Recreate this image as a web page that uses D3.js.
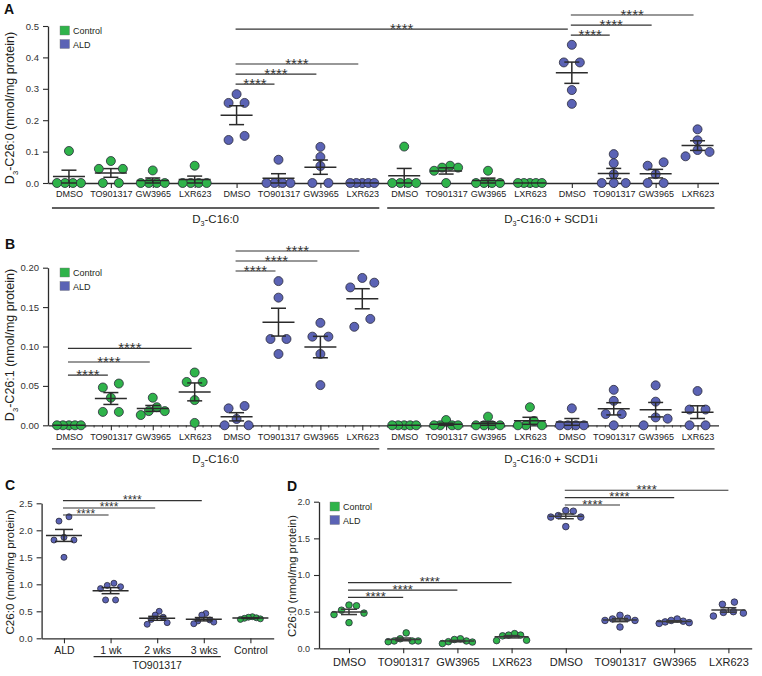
<!DOCTYPE html>
<html><head><meta charset="utf-8">
<script src="https://cdn.jsdelivr.net/npm/d3@7"></script>
<style>
body{margin:0;background:#fff}
text{font-family:"Liberation Sans",Arial,Helvetica,sans-serif;fill:#231f20}
</style>
</head><body>
<svg id="chart" width="762" height="676"></svg>
<script>
// ---------------- DATA ----------------
const treatments = ["DMSO","TO901317","GW3965","LXR623"];
const groupsAB = [...treatments, ...treatments, ...treatments, ...treatments];
const genotypeAB = ["Control","Control","Control","Control","ALD","ALD","ALD","ALD",
                    "Control","Control","Control","Control","ALD","ALD","ALD","ALD"];
const conditionsAB = [
  {segs:[["D",0],["3",1],["-C16:0",0]], from:0, to:7},
  {segs:[["D",0],["3",1],["-C16:0 + SCD1i",0]], from:8, to:15}
];
const legendItems = ["Control","ALD"];

const valuesA = [
  [0,0,0,0,0.102],
  [0,0,0.045,0.045,0.07],
  [0,0,0,0,0.04],
  [0,0,0,0,0.055],
  [0.283,0.255,0.255,0.137,0.15],
  [0,0,0,0,0.074],
  [0,0,0.054,0.083,0.115],
  [0,0,0,0,0],
  [0,0,0,0,0.116],
  [0,0.039,0.049,0.049,0.055],
  [0,0,0,0,0.039],
  [0,0,0,0,0],
  [0.44,0.384,0.384,0.296,0.252],
  [0,0,0,0.028,0.063,0.092],
  [0,0,0.028,0.055,0.066],
  [0.171,0.136,0.105,0.099,0.085]
];
const ticksA = [0,0.1,0.2,0.3,0.4,0.5];
const sigA = [
  {a:4,b:5,at:0.315},{a:4,b:6,at:0.347},{a:4,b:7,at:0.379},{a:4,b:12,at:0.490},
  {a:12,b:13,at:0.471},{a:12,b:14,at:0.503},{a:12,b:15,at:0.535}
];

const valuesB = [
  [0,0,0,0,0],
  [0.053,0.048,0.035,0.017,0.017],
  [0.035,0.023,0.018,0.018,0.013],
  [0.067,0.055,0.055,0.032,0.003],
  [0.0245,0.0215,0.008,0,0],
  [0.183,0.162,0.1095,0.1095,0.0905],
  [0.13,0.1125,0.1125,0.0905,0.051],
  [0.187,0.181,0.175,0.125,0.135],
  [0,0,0,0,0],
  [0.0067,0,0,0,0],
  [0.011,0,0,0,0],
  [0.023,0.0055,0,0,0],
  [0.0215,0,0,0,0],
  [0.045,0.031,0.0143,0.0143,0],
  [0.0507,0.030,0.010,0.0084,0],
  [0.0435,0.020,0.020,0,0]
];
const ticksB = [0,0.05,0.10,0.15,0.20];
const sigB = [
  {a:0,b:1,at:0.0638},{a:0,b:2,at:0.0803},{a:0,b:3,at:0.0977},
  {a:4,b:5,at:0.1958},{a:4,b:6,at:0.2085},{a:4,b:7,at:0.2212}
];

const groupsC = ["ALD","1 wk","2 wks","3 wks","Control"];
const genotypeC = ["ALD","ALD","ALD","ALD","Control"];
const valuesC = [
  [2.25,2.17,1.87,1.82,1.82,1.50],
  [1.02,0.98,0.955,0.92,0.71,0.71],
  [0.50,0.43,0.39,0.35,0.29,0.26],
  [0.46,0.43,0.34,0.32,0.30,0.27],
  [0.35,0.39,0.36,0.40,0.37,0.38]
];
const ticksC = [0,0.5,1.0,1.5,2.0,2.5];
const bracketC = {label:"TO901317", from:1, to:3};
const sigC = [{a:0,b:1,at:2.283},{a:0,b:2,at:2.413},{a:0,b:3,at:2.548}];

const groupsD = [...treatments, ...treatments];
const genotypeD = ["Control","Control","Control","Control","ALD","ALD","ALD","ALD"];
const valuesD = [
  [0.59,0.58,0.52,0.48,0.46,0.35],
  [0.21,0.13,0.10,0.10,0.10,0.09],
  [0.13,0.12,0.10,0.09,0.085,0.065],
  [0.20,0.18,0.18,0.17,0.11,0.105],
  [1.88,1.87,1.81,1.79,1.79,1.66],
  [0.45,0.41,0.40,0.38,0.38,0.29],
  [0.40,0.38,0.37,0.36,0.35,0.34],
  [0.63,0.60,0.50,0.49,0.48,0.44]
];
const ticksD = [0,0.5,1.0,1.5,2.0];
const sigD = [
  {a:0,b:1,at:0.696},{a:0,b:2,at:0.795},{a:0,b:3,at:0.895},
  {a:4,b:5,at:1.955},{a:4,b:6,at:2.055},{a:4,b:7,at:2.156}
];

// ---------------- STYLE ----------------
const COL = {Control:"#2fb34a", ALD:"#5b63b5"};
const INK = "#2b2b2b";
const svg = d3.select("#chart");

function rich(sel, segs, fs){
  segs.forEach(([t,sub],i)=>{
    const ts = sel.append("tspan").text(t);
    if(sub){ ts.attr("font-size", fs*0.62).attr("dy", fs*0.3); }
    else if(i>0 && segs[i-1][1]){ ts.attr("dy", -fs*0.3); }
  });
}

function swarm(vals, y, o){
  const pts = vals.map(v=>({v, py:y(v)})).sort((a,b)=>a.py-b.py);
  const rows=[]; let cur=[];
  pts.forEach(p=>{
    if(cur.length && p.py-cur[cur.length-1].py >= o.rowGap){ rows.push(cur); cur=[]; }
    cur.push(p);
  });
  if(cur.length) rows.push(cur);
  rows.forEach(row=>{
    const k=row.length;
    const pitch = k>1 ? Math.min(o.maxPitch, o.maxW/(k-1)) : 0;
    const offs = d3.range(k).map(i=>(i-(k-1)/2)*pitch)
      .sort((a,b)=>Math.abs(a)-Math.abs(b) || b-a);
    row.forEach((p,i)=>p.dx=offs[i]);
  });
  return pts;
}

function panel(o){
  const g = svg.append("g");
  const x = d3.scaleLinear().domain(o.xDomain).range(o.xRange);
  const y = d3.scaleLinear().domain(o.yDomain).range(o.yRange);
  const ya = g.append("g").attr("transform",`translate(${o.xRange[0]},0)`)
    .call(d3.axisLeft(y).tickValues(o.ticks).tickFormat(d3.format(o.fmt))
      .tickSize(5).tickSizeOuter(0).tickPadding(4));
  ya.selectAll("text").attr("font-size",o.yFs).style("fill","#333");
  const n = o.values.length;
  const xa = g.append("g").attr("transform",`translate(0,${y(0)})`)
    .call(d3.axisBottom(x).tickValues(d3.range(n)).tickFormat(i=>o.labels[i])
      .tickSize(5).tickSizeOuter(0).tickPadding(o.xPad));
  xa.selectAll("text").attr("font-size",o.xFs).style("fill","#222");
  [ya,xa].forEach(a=>{a.select(".domain").attr("stroke",INK).attr("stroke-width",1.3);
    a.selectAll(".tick line").attr("stroke",INK).attr("stroke-width",1.1);});
  if(o.minor){
    const mt=[]; for(let i=0;i<n-1;i++) for(let j=1;j<5;j++) mt.push(i+j/5);
    g.append("g").selectAll("line").data(mt).join("line")
      .attr("x1",d=>x(d)).attr("x2",d=>x(d)).attr("y1",y(0)).attr("y2",y(0)+2.2)
      .attr("stroke",INK).attr("stroke-width",0.9);
  }
  o.values.forEach((vals,i)=>{
    const pts = swarm(vals,y,o.sw);
    g.append("g").selectAll("circle").data(pts).join("circle")
      .attr("cx",d=>x(i)+d.dx).attr("cy",d=>y(d.v)).attr("r",o.r)
      .attr("fill",COL[o.geno[i]]).attr("stroke","#2a2a3a").attr("stroke-width",0.8);
  });
  o.values.forEach((vals,i)=>{
    const m=d3.mean(vals), s=d3.deviation(vals)/Math.sqrt(vals.length);
    const cx=x(i), eg=g.append("g").attr("stroke",o.barCol||INK).attr("stroke-width",1.5);
    eg.append("line").attr("x1",cx-o.mw).attr("x2",cx+o.mw).attr("y1",y(m)).attr("y2",y(m));
    if(s>0){
      eg.append("line").attr("x1",cx).attr("x2",cx).attr("y1",y(m-s)).attr("y2",y(m+s));
      [m-s,m+s].forEach(v=>eg.append("line").attr("x1",cx-o.cw).attr("x2",cx+o.cw)
        .attr("y1",y(v)).attr("y2",y(v)));
    }
  });
  o.sig.forEach(s=>{
    const x1=x(s.a)-1, x2=x(s.b)-o.sigEnd, yy=y(s.at);
    g.append("line").attr("x1",x1).attr("x2",x2).attr("y1",yy).attr("y2",yy)
      .attr("stroke","#333").attr("stroke-width",1.2);
    g.append("text").attr("x",(x1+x2)/2).attr("y",yy+0.58*o.starFs-3.8)
      .attr("text-anchor","middle").attr("font-size",o.starFs).style("fill","#333").text("****");
  });
  (o.brackets||[]).forEach(b=>{
    const by=y(0)+o.bOff;
    g.append("line").attr("x1",x(b.from)-17).attr("x2",x(b.to)+17).attr("y1",by).attr("y2",by)
      .attr("stroke",INK).attr("stroke-width",1.3);
    const t=g.append("text").attr("x",(x(b.from)+x(b.to))/2).attr("y",by+o.bLab)
      .attr("text-anchor","middle").attr("font-size",o.bFs);
    if(b.segs) rich(t,b.segs,o.bFs); else t.text(b.label);
  });
  const yt=g.append("text").attr("transform",`translate(${o.yt[0]},${o.yt[1]}) rotate(-90)`)
    .attr("text-anchor","middle").attr("font-size",o.ytFs);
  rich(yt,o.ytSegs,o.ytFs);
  g.append("text").attr("x",o.letter[1]).attr("y",o.letter[2]).attr("font-size",14)
    .attr("font-weight","bold").style("fill","#111").text(o.letter[0]);
  if(o.legend){
    legendItems.forEach((k,j)=>{
      const ly=o.legend[1]+j*13.5;
      g.append("rect").attr("x",o.legend[0]).attr("y",ly).attr("width",9.5).attr("height",9)
        .attr("fill",COL[k]).attr("stroke","#777").attr("stroke-width",0.4);
      g.append("text").attr("x",o.legend[0]+13).attr("y",ly+8).attr("font-size",9).text(k);
    });
  }
}

const swAB = {rowGap:8.1, maxPitch:16, maxW:24};
panel({values:valuesA, labels:groupsAB, geno:genotypeAB, ticks:ticksA, fmt:".1f",
  xDomain:[-0.5,15.5], xRange:[48,718.5], yDomain:[0,0.5], yRange:[183,26],
  yFs:9.5, xFs:9, xPad:3, r:4.5, sw:swAB, mw:16, cw:7.5, sig:sigA, sigEnd:4, starFs:15,
  brackets:conditionsAB, bOff:25, bLab:14.5, bFs:11.5,
  yt:[14,108], ytFs:12.5, ytSegs:[["D",0],["3",1],["-C26:0 (nmol/mg protein)",0]],
  letter:["A",4,14], legend:[60,26]});

panel({values:valuesB, labels:groupsAB, geno:genotypeAB, ticks:ticksB, fmt:".2f",
  xDomain:[-0.5,15.5], xRange:[48,718.5], yDomain:[0,0.2], yRange:[425.3,267.7],
  yFs:9.5, xFs:9, xPad:3, r:4.5, sw:swAB, mw:16, cw:7.5, sig:sigB, sigEnd:3, starFs:15,
  brackets:conditionsAB, bOff:23.5, bLab:14.5, bFs:11.5, minor:true,
  yt:[14,345], ytFs:12.5, ytSegs:[["D",0],["3",1],["-C26:1 (nmol/mg protein)",0]],
  letter:["B",5,249], legend:[60,268]});

panel({values:valuesC, labels:groupsC, geno:genotypeC, ticks:ticksC, fmt:".1f",
  xDomain:[-0.48,4.5], xRange:[41.6,273.7], yDomain:[0,2.5], yRange:[638.3,503.3],
  yFs:9.8, xFs:10.5, xPad:3, r:3, sw:{rowGap:5, maxPitch:10, maxW:20}, mw:18, cw:9,
  sig:sigC, sigEnd:2, starFs:12,
  brackets:[bracketC], bOff:18.4, bLab:12, bFs:10.5,
  yt:[14,572], ytFs:11.6, ytSegs:[["C26:0 (nmol/mg protein)",0]],
  letter:["C",5,490]});

panel({values:valuesD, labels:groupsD, geno:genotypeD, ticks:ticksD, fmt:".1f",
  xDomain:[-0.5535,7.43], xRange:[319,751.7], yDomain:[0,2.0], yRange:[648.3,501.7],
  yFs:9, xFs:11, xPad:5, r:3.3, sw:{rowGap:6, maxPitch:12, maxW:30}, mw:17, cw:8,
  barCol:"#3a3a3a", sig:sigD, sigEnd:0, starFs:13,
  yt:[296,576], ytFs:11.3, ytSegs:[["C26:0 (nmol/mg protein)",0]],
  letter:["D",287,491], legend:[330,502]});
</script>
</body></html>
